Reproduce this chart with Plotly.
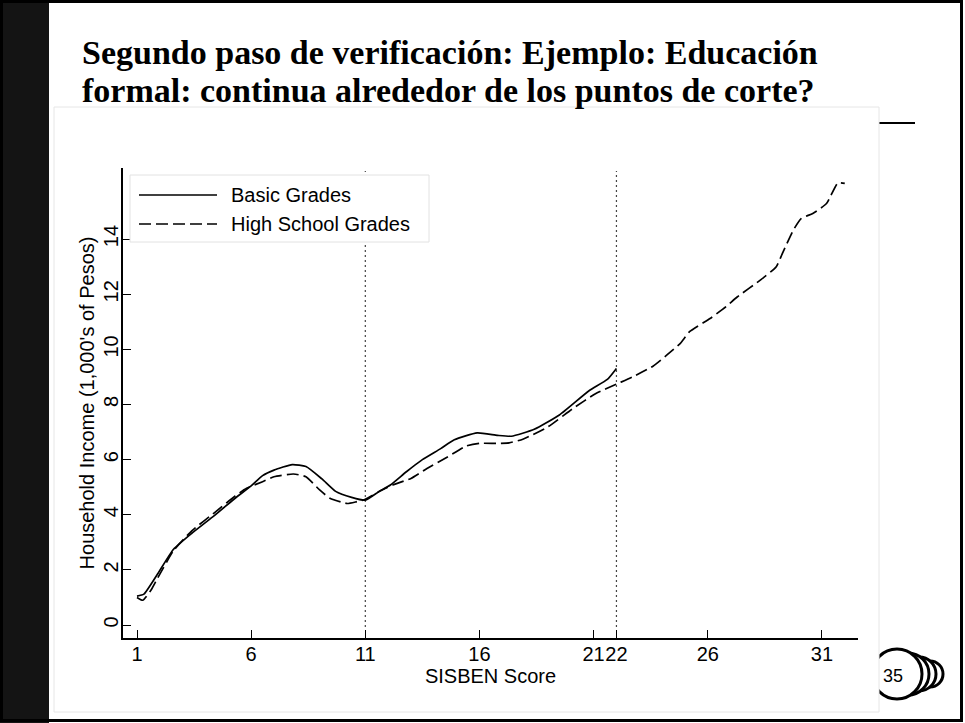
import plotly.graph_objects as go

# ---------------- data ----------------
basic_x = [1, 1.3, 1.9, 2.6, 3.4, 4.4, 5.3, 6.0, 6.5, 7.0, 7.8, 8.4, 9.1, 9.7, 10.4,
           11.0, 11.6, 12.1, 12.8, 13.5, 14.3, 14.9, 15.9, 16.8, 17.4, 18.4, 19.5,
           20.8, 21.6, 22.0]
basic_y = [1.05, 1.12, 1.85, 2.75, 3.33, 3.98, 4.6, 5.05, 5.42, 5.62, 5.82, 5.75, 5.3,
           4.85, 4.63, 4.53, 4.84, 5.08, 5.56, 6.0, 6.4, 6.72, 6.97, 6.88, 6.85,
           7.1, 7.62, 8.5, 8.91, 9.31]

hs_x = [1, 1.25, 1.6, 1.9, 2.6, 3.4, 4.4, 5.3, 5.8, 6.5, 7.0, 7.85, 8.4, 9.0, 9.45,
        10.2, 10.6, 11.0, 11.6, 12.2, 13.0, 13.7, 14.6, 15.4, 16.0, 16.8, 17.3, 17.9,
        19.0, 20.1, 21.1, 22.0, 22.7, 23.6, 24.2, 24.8, 25.2, 26.1, 26.8, 27.3, 28.3,
        29.0, 29.3, 29.75, 30.1, 30.6, 31.2, 31.7, 32.0]
hs_y = [1.0, 0.9, 1.25, 1.7, 2.7, 3.42, 4.08, 4.68, 4.96, 5.2, 5.38, 5.48, 5.38, 4.9,
        4.6, 4.41, 4.47, 4.56, 4.84, 5.08, 5.32, 5.68, 6.1, 6.49, 6.59, 6.59, 6.61,
        6.74, 7.19, 7.86, 8.4, 8.74, 9.0, 9.39, 9.79, 10.22, 10.64, 11.12, 11.55,
        11.91, 12.51, 13.0, 13.54, 14.33, 14.75, 14.93, 15.29, 16.04, 16.02]

x_ticks = [1, 6, 11, 16, 21, 22, 26, 31]
y_ticks = [0, 2, 4, 6, 8, 10, 12, 14]
cutoffs = [11, 22]

series_names = ["Basic Grades", "High School Grades"]
title_lines = ["Segundo paso de verificación: Ejemplo: Educación",
               "formal: continua alrededor de los puntos de corte?"]
x_title = "SISBEN Score"
y_title = "Household Income (1,000's of Pesos)"
page_number = "35"

# ---------------- layout geometry (pixels) ----------------
W, H = 965, 723
L, R, T, B = 123, 858, 168, 638


def PX(px):
    return (px - L) / (R - L)


def PY(py):
    return (B - py) / (B - T)


FONT = "Liberation Sans, Arial, sans-serif"
DASH = "12px,5px"
FS = 20

fig = go.Figure()
fig.add_trace(go.Scatter(x=basic_x, y=basic_y, mode="lines", name=series_names[0],
                         showlegend=False,
                         line=dict(color="black", width=1.7, shape="spline", smoothing=0.5)))
fig.add_trace(go.Scatter(x=hs_x, y=hs_y, mode="lines", name=series_names[1],
                         showlegend=False,
                         line=dict(color="black", width=1.7, dash=DASH, shape="spline",
                                   smoothing=0.5)))

shapes = []
# slide frame + dark left band
shapes.append(dict(type="rect", xref="paper", yref="paper", x0=PX(0), x1=PX(49),
                   y0=PY(0), y1=PY(H), fillcolor="#141414", line=dict(width=0), layer="below"))
shapes.append(dict(type="rect", xref="paper", yref="paper", x0=PX(1.5), x1=PX(961.5),
                   y0=PY(1.5), y1=PY(720.5), line=dict(color="black", width=3), layer="below"))
# short rule to the right of the chart image
shapes.append(dict(type="line", xref="paper", yref="paper", x0=PX(840), x1=PX(915),
                   y0=PY(123), y1=PY(123), line=dict(color="black", width=2), layer="below"))
# page-number "coin stack"
for k in [3, 2, 1, 0]:
    cx = 897 + 11 * k
    r = 25 - 4 * k
    shapes.append(dict(type="circle", xref="paper", yref="paper",
                       x0=PX(cx - r), x1=PX(cx + r), y0=PY(674 - r), y1=PY(674 + r),
                       fillcolor="white", line=dict(color="black", width=3), layer="below"))
# chart image area
shapes.append(dict(type="rect", xref="paper", yref="paper", x0=PX(54), x1=PX(879),
                   y0=PY(107), y1=PY(712), fillcolor="white",
                   line=dict(color="#e6e6e6", width=1), layer="below"))
# cutoff lines
for c in cutoffs:
    shapes.append(dict(type="line", xref="x", yref="paper", x0=c, x1=c,
                       y0=PY(627), y1=PY(171),
                       line=dict(color="#444444", width=1.2, dash="2px,3px"), layer="below"))
# legend box and keys
shapes.append(dict(type="rect", xref="paper", yref="paper", x0=PX(130), x1=PX(429),
                   y0=PY(175), y1=PY(242), fillcolor="white",
                   line=dict(color="#e2e2e2", width=1)))
shapes.append(dict(type="line", xref="paper", yref="paper", x0=PX(139), x1=PX(217),
                   y0=PY(195), y1=PY(195), line=dict(color="black", width=1.7)))
shapes.append(dict(type="line", xref="paper", yref="paper", x0=PX(139), x1=PX(217),
                   y0=PY(224), y1=PY(224), line=dict(color="black", width=1.7, dash=DASH)))

TITLE_FONT = dict(family="Liberation Serif, Times New Roman, serif", size=34,
                  color="black", weight="bold")
annotations = [
    dict(text=title_lines[0], xref="paper", yref="paper", x=PX(80), y=PY(53),
         xanchor="left", yanchor="middle", align="left", showarrow=False, font=TITLE_FONT),
    dict(text=title_lines[1], xref="paper", yref="paper", x=PX(80), y=PY(91),
         xanchor="left", yanchor="middle", align="left", showarrow=False, font=TITLE_FONT),
    dict(text=series_names[0], xref="paper", yref="paper", x=PX(229), y=PY(195),
         xanchor="left", yanchor="middle", showarrow=False,
         font=dict(family=FONT, size=FS, color="black")),
    dict(text=series_names[1], xref="paper", yref="paper", x=PX(229), y=PY(224),
         xanchor="left", yanchor="middle", showarrow=False,
         font=dict(family=FONT, size=FS, color="black")),
    dict(text=page_number, xref="paper", yref="paper", x=PX(893), y=PY(676),
         xanchor="center", yanchor="middle", showarrow=False,
         font=dict(family=FONT, size=18, color="black")),
]

fig.update_layout(
    width=W, height=H, autosize=False,
    margin=dict(l=L, r=W - R, t=T, b=H - B, pad=0),
    paper_bgcolor="white", plot_bgcolor="rgba(0,0,0,0)",
    font=dict(family=FONT, size=FS, color="black"),
    shapes=shapes, annotations=annotations, showlegend=False,
    xaxis=dict(range=[0.387, 32.58], tickmode="array", tickvals=x_ticks,
               ticktext=[str(v) for v in x_ticks], ticks="inside", ticklen=8,
               tickwidth=1.3, tickcolor="black", showline=True, linecolor="black",
               linewidth=1.5, showgrid=False, zeroline=False, tickangle=0,
               tickfont=dict(size=FS), ticklabelstandoff=-3,
               title=dict(text=x_title, standoff=0, font=dict(size=FS))),
    yaxis=dict(range=[-0.47, 16.58], tickmode="array", tickvals=y_ticks,
               ticks="inside", ticklen=8, tickwidth=1.3, tickcolor="black",
               tickangle=-90, showline=True, linecolor="black", linewidth=1.5,
               showgrid=False, zeroline=False, tickfont=dict(size=FS),
               ticklabelstandoff=-5,
               title=dict(text=y_title, standoff=0, font=dict(size=FS))),
)

fig.write_html("out.html", config={"displayModeBar": False},
               post_script="document.body.style.margin='0px';")
